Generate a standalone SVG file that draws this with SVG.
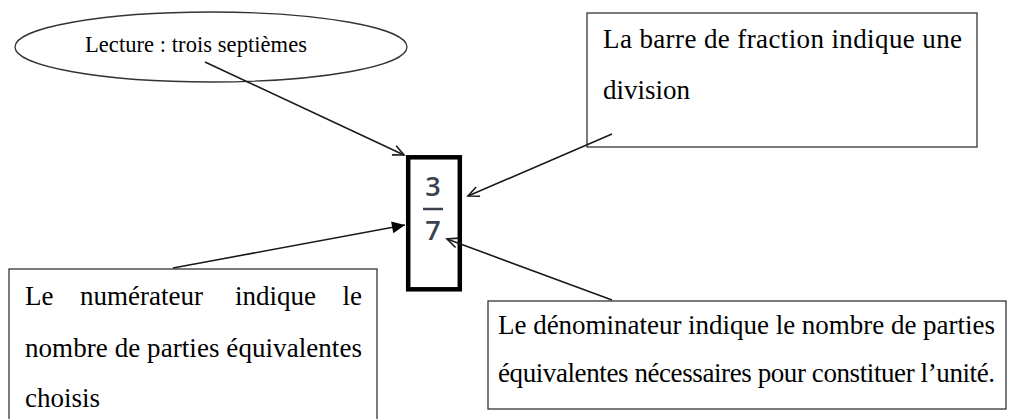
<svg xmlns="http://www.w3.org/2000/svg" width="1010" height="419" viewBox="0 0 1010 419">
<style>
.box{fill:#fff;stroke:#333;stroke-width:1.3}
.t{font-family:"Liberation Serif","Times New Roman",serif;font-size:27px;fill:#000}
.te{font-family:"Liberation Serif","Times New Roman",serif;font-size:22.5px;fill:#000}
.conn{stroke:#1a1a1a;stroke-width:1.6;fill:none}
.frac{font-family:"Open Sans","Noto Sans",sans-serif;font-size:27px;font-weight:600;fill:#39424e;text-anchor:middle}
</style>
<defs>
<marker id="open" markerUnits="userSpaceOnUse" markerWidth="14" markerHeight="14" refX="0" refY="0" orient="auto" overflow="visible">
<path d="M-11,-5 L0,0 L-11,5" fill="none" stroke="#1a1a1a" stroke-width="1.6"/>
</marker>
<marker id="filled" markerUnits="userSpaceOnUse" markerWidth="16" markerHeight="16" refX="0" refY="0" orient="auto" overflow="visible">
<path d="M-13,-6 L0,0 L-13,6 Z" fill="#000"/>
</marker>
</defs>
<rect width="1010" height="419" fill="#fff"/>
<g id="lecture">
<ellipse cx="211" cy="47" rx="196" ry="35" fill="#fff" stroke="#333" stroke-width="1.3"/>
<text class="te" x="85" y="52" textLength="222" lengthAdjust="spacing">Lecture : trois septièmes</text>
</g>
<g id="barre">
<rect class="box" x="587" y="13" width="390" height="134"/>
<text class="t" x="603" y="48" textLength="359" lengthAdjust="spacing">La barre de fraction indique une</text>
<text class="t" x="603" y="99">division</text>
</g>
<g id="fraction">
<rect x="408.2" y="157.3" width="51.6" height="132" fill="#fff" stroke="#000" stroke-width="4.5"/>
<text class="frac" x="433" y="196">3</text>
<line x1="423" y1="209" x2="443" y2="209" stroke="#39424e" stroke-width="2.5"/>
<text class="frac" x="433" y="240">7</text>
</g>
<g id="numerateur">
<rect class="box" x="9" y="269" width="368" height="160"/>
<text class="t" x="25" y="305">Le</text>
<text class="t" x="80" y="305">numérateur</text>
<text class="t" x="235" y="305">indique</text>
<text class="t" x="362" y="305" text-anchor="end">le</text>
<text class="t" x="25" y="357" textLength="337" lengthAdjust="spacing">nombre de parties équivalentes</text>
<text class="t" x="25" y="407">choisis</text>
</g>
<g id="denominateur">
<rect class="box" x="488" y="301" width="518" height="108"/>
<text class="t" x="498" y="334" textLength="497" lengthAdjust="spacing">Le dénominateur indique le nombre de parties</text>
<text class="t" x="498" y="382" textLength="497" lengthAdjust="spacing">équivalentes nécessaires pour constituer l’unité.</text>
</g>
<g id="connectors">
<line class="conn" x1="205" y1="62" x2="404" y2="155" marker-end="url(#open)"/>
<line class="conn" x1="612" y1="134" x2="468" y2="196" marker-end="url(#open)"/>
<line class="conn" x1="173" y1="268" x2="405" y2="225" marker-end="url(#filled)"/>
<line class="conn" x1="612" y1="300" x2="447" y2="239" marker-end="url(#open)"/>
</g>
</svg>
